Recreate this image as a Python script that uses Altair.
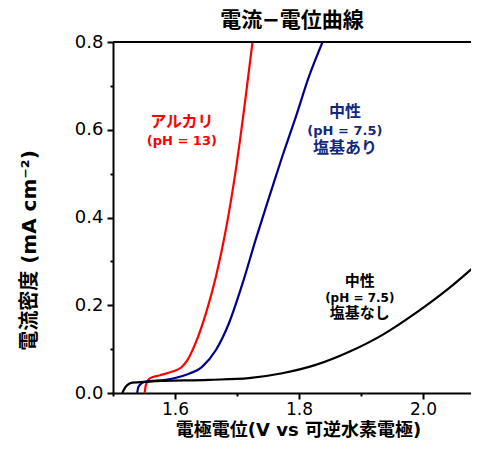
import altair as alt
import pandas as pd

# --- data ---
red_x = [1.551, 1.553, 1.556, 1.560, 1.575, 1.596, 1.610, 1.620, 1.633, 1.650, 1.666, 1.682, 1.698, 1.714, 1.725]
red_y = [0.000, 0.018, 0.028, 0.034, 0.040, 0.049, 0.058, 0.075, 0.113, 0.182, 0.265, 0.372, 0.508, 0.675, 0.800]

blue_x = [1.539, 1.541, 1.546, 1.553, 1.585, 1.617, 1.644, 1.666, 1.687, 1.709, 1.730, 1.752, 1.773, 1.795, 1.816, 1.838]
blue_y = [0.000, 0.014, 0.022, 0.026, 0.030, 0.041, 0.060, 0.098, 0.159, 0.250, 0.349, 0.447, 0.539, 0.630, 0.721, 0.800]

black_x = [1.515, 1.519, 1.523, 1.531, 1.558, 1.655, 1.719, 1.773, 1.827, 1.881, 1.934, 1.988, 2.042, 2.089]
black_y = [0.000, 0.011, 0.018, 0.0235, 0.026, 0.030, 0.034, 0.045, 0.064, 0.094, 0.132, 0.182, 0.239, 0.296]

series_names = ["alkali", "neutral_base", "neutral"]
series_colors = ["#ff0000", "#00008b", "#000000"]

label_text = ["アルカリ", "(pH = 13)",
              "中性", "(pH = 7.5)", "塩基あり",
              "中性", "(pH = 7.5)", "塩基なし"]
label_x = [1.611, 1.611, 1.874, 1.874, 1.874, 1.898, 1.898, 1.898]
label_y = [0.617, 0.574, 0.640, 0.597, 0.559, 0.255, 0.217, 0.182]
label_color = ["#ff0000", "#ff0000", "#14287a", "#14287a", "#14287a", "#000000", "#000000", "#000000"]
label_size = [16, 13, 16, 13, 16, 15, 12, 15]

x_ticks = [1.5, 1.6, 1.7, 1.8, 1.9, 2.0]
y_ticks = [0.0, 0.1, 0.2, 0.3, 0.4, 0.5, 0.6, 0.7, 0.8]

rows = []
for name, xs, ys in zip(series_names, [red_x, blue_x, black_x], [red_y, blue_y, black_y]):
    for i, (xv, yv) in enumerate(zip(xs, ys)):
        rows.append({"series": name, "i": i, "x": xv, "y": yv})
df = pd.DataFrame(rows)

labels = pd.DataFrame({"t": label_text, "x": label_x, "y": label_y,
                       "c": label_color, "s": label_size})

FONT = "DejaVu Sans, Noto Sans CJK JP"
W, H = 358, 351

xscale = alt.Scale(domain=[1.5, 2.0774], nice=False, zero=False)
yscale = alt.Scale(domain=[0, 0.8], nice=False)

minor = "round(datum.value*10) % 2 == 1"
major_label = "round(datum.value*10) % 2 == 0 ? format(datum.value, '.1f') : ''"

xaxis = alt.Axis(
    title="電極電位(V vs 可逆水素電極)", values=x_ticks, labelExpr=major_label,
    tickSize={"condition": {"test": minor, "value": 3}, "value": 6},
    grid=False, domainColor="black", domainWidth=2, tickColor="black", tickWidth=2,
    labelFont=FONT, labelFontSize=17, labelColor="black", labelPadding=2,
    titleFont=FONT, titleFontSize=18, titleFontWeight="bold", titleColor="black",
    titleX=185, titleY=46, titleAlign="center", titleBaseline="bottom",
)
yaxis = alt.Axis(
    title="電流密度 (mA cm⁻²)", values=y_ticks, labelExpr=major_label,
    tickSize={"condition": {"test": minor, "value": 3}, "value": 6},
    grid=False, domainColor="black", domainWidth=2, tickColor="black", tickWidth=2,
    labelFont=FONT, labelFontSize=18, labelColor="black", labelPadding=4,
    titleFont=FONT, titleFontSize=20, titleFontWeight="bold", titleColor="black",
    titleX=-84, titleY=208, titleAngle=270, titleAlign="center", titleBaseline="middle",
)

lines = alt.Chart(df).mark_line(strokeWidth=2.2, clip=True, interpolate="monotone").encode(
    x=alt.X("x:Q", scale=xscale, axis=xaxis),
    y=alt.Y("y:Q", scale=yscale, axis=yaxis),
    color=alt.Color("series:N", scale=alt.Scale(domain=series_names, range=series_colors), legend=None),
    order="i:Q",
)

texts = alt.Chart(labels).mark_text(font=FONT, fontWeight="bold", align="center", baseline="middle").encode(
    x=alt.X("x:Q", scale=xscale),
    y=alt.Y("y:Q", scale=yscale),
    text="t:N",
    color=alt.Color("c:N", scale=None),
    size=alt.Size("s:Q", scale=None),
)

top = alt.Chart(labels).mark_rule(color="black", strokeWidth=2).encode(
    x=alt.value(0), x2=alt.value(W), y=alt.value(0)
)

chart = alt.layer(lines, texts, top).properties(
    width=W, height=H,
    title=alt.TitleParams("電流−電位曲線", font=FONT, fontSize=21, fontWeight="bold",
                          color="black", anchor="middle", offset=2),
    padding={"left": 105, "top": 34, "right": 0, "bottom": 47},
    autosize=alt.AutoSizeParams(type="none"),
).configure_view(stroke=None).configure(background="white")

chart.save("out.html", embed_options={"renderer": "svg", "actions": False})
